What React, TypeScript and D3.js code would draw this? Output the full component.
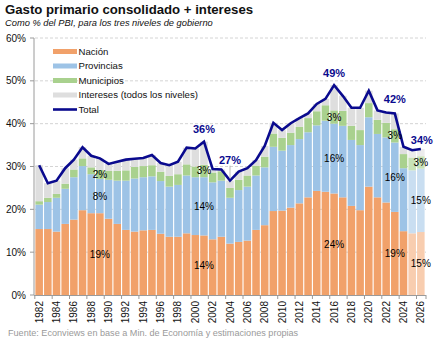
import React from 'react';
import * as d3 from 'd3';

const years = [1982,1983,1984,1985,1986,1987,1988,1989,1990,1991,1992,1993,1994,1995,1996,1997,1998,1999,2000,2001,2002,2003,2004,2005,2006,2007,2008,2009,2010,2011,2012,2013,2014,2015,2016,2017,2018,2019,2020,2021,2022,2023,2024,2025,2026];
const nacion = [15.4,15.4,14.8,16.6,17.6,19.8,19.1,19.1,17.8,16.6,15.2,14.8,15.1,15.2,14.3,13.6,13.6,14.4,14.0,13.9,13.0,13.6,12.0,12.4,12.7,15.2,16.3,19.6,19.7,20.4,21.4,22.8,24.3,24.1,23.7,22.8,20.8,19.8,25.3,22.8,21.6,19.4,14.9,14.4,14.7];
const provincias = [5.7,6.3,7.9,8.2,9.9,10.3,9.1,8.0,9.1,10.1,11.5,12.4,12.4,12.5,12.3,11.7,12.1,13.5,13.5,13.6,13.3,13.1,10.7,12.1,12.6,12.7,13.5,15.0,14.0,14.6,15.0,15.2,15.3,16.6,16.3,16.7,15.4,15.2,16.2,14.8,15.2,16.2,14.7,14.7,14.8];
const municipios = [0.8,1.0,0.9,1.2,1.8,1.8,1.6,2.1,2.1,2.3,2.4,2.7,2.6,2.6,2.2,2.5,2.5,2.6,2.5,2.9,2.3,2.2,2.3,2.4,2.6,2.3,2.5,3.1,3.0,2.9,2.9,3.3,3.3,3.6,3.1,3.5,3.3,3.5,3.3,3.3,3.4,3.1,3.3,3.0,2.9];
const intereses = [8.4,3.4,3.1,3.6,2.3,2.6,2.7,2.7,1.6,2.1,2.5,1.9,1.9,2.4,2.0,2.5,2.9,3.9,4.2,5.4,0.8,0.4,1.7,1.9,1.7,1.3,2.5,2.5,1.8,2.2,2.0,1.1,1.7,1.5,5.9,3.5,4.2,5.2,2.9,2.2,2.4,3.7,1.7,1.7,1.7];
const total = [30.3,26.1,26.7,29.6,31.6,34.5,32.5,31.9,30.6,31.1,31.6,31.8,32.0,32.7,30.8,30.3,31.1,34.4,34.2,35.8,29.4,29.3,26.7,28.8,29.6,31.5,34.8,40.2,38.5,40.1,41.3,42.4,44.6,45.8,49.0,46.5,43.7,43.7,47.7,43.1,42.6,42.4,34.6,33.8,34.1];

const projectedYears = [2025, 2026];
const yTicks = [0, 10, 20, 30, 40, 50, 60];
const segmentLabelYears = [1989, 2001, 2016, 2023, 2026];
const totalLabelYears = [2001, 2004, 2016, 2023, 2026];

const seriesKeys = ['nacion', 'provincias', 'municipios', 'intereses'];
const seriesNames = ['Nación', 'Provincias', 'Municipios', 'Intereses (todos los niveles)'];
const colors: Record<string, string> = { nacion: '#F1A16A', provincias: '#9DC3E6', municipios: '#A9D18E', intereses: '#DEDEDE' };
const lightColors: Record<string, string> = { nacion: '#F8CDAF', provincias: '#C9DEF1', municipios: '#C8E2B6', intereses: '#ECECEC' };
const navy = '#0A0A8E';
const FONT = '"Liberation Sans", Arial, sans-serif';

export default function App() {
  const table = years.map((yr, i) => ({ year: yr, nacion: nacion[i], provincias: provincias[i], municipios: municipios[i], intereses: intereses[i], total: total[i] }));
  const x = d3.scaleBand<number>().domain(years).range([34, 426]).paddingInner(0.13).paddingOuter(0.16);
  const y = d3.scaleLinear().domain([0, 60]).range([295, 38]);
  const stack = d3.stack<any>().keys(seriesKeys)(table);
  const cx = (yr: number) => (x(yr) as number) + x.bandwidth() / 2;
  const line = d3.line<any>().x(d => cx(d.year)).y(d => y(d.total));
  const step = x.step();
  const pad = step * x.paddingInner() / 2;

  const labelOffsets: Record<number, number> = { 2001: 9, 2004: 17, 2016: 8, 2023: 10, 2026: 5 };

  return (
    <svg width={442} height={340} style={{ position: 'absolute', left: 0, top: 0, background: '#fff' }} fontFamily={FONT}>
      <text x={5} y={14} fontSize={13.2} fontWeight="bold" fill="#111">Gasto primario consolidado + intereses</text>
      <text x={5} y={25.5} fontSize={9.3} fontStyle="italic" fill="#111">Como % del PBI, para los tres niveles de gobierno</text>

      {yTicks.filter(t => t > 0).map(t => (
        <line key={'g' + t} x1={35} x2={426} y1={y(t)} y2={y(t)} stroke="#D4D4D4" strokeDasharray="3,2" strokeWidth={1} />
      ))}

      {stack.map(s => (
        <g key={s.key}>
          {s.map((d: any) => (
            <rect key={d.data.year} x={x(d.data.year)} width={x.bandwidth()} y={y(d[1])} height={Math.max(0, y(d[0]) - y(d[1]))}
              fill={projectedYears.includes(d.data.year) ? lightColors[s.key] : colors[s.key]} />
          ))}
        </g>
      ))}

      <line x1={34} x2={34} y1={38} y2={295} stroke="#9A9A9A" strokeWidth={1} />
      {yTicks.map(t => (
        <g key={'yt' + t}>
          <line x1={30} x2={34} y1={y(t)} y2={y(t)} stroke="#9A9A9A" />
          <text x={26} y={y(t)} dy="0.35em" textAnchor="end" fontSize={10} fill="#111">{t}%</text>
        </g>
      ))}
      <line x1={34} x2={426} y1={295.5} y2={295.5} stroke="#9A9A9A" strokeWidth={1} />
      {years.filter(yr => yr % 2 === 0).map(yr => (
        <g key={'xt' + yr}>
          <line x1={(x(yr) as number) - pad} x2={(x(yr) as number) - pad} y1={295} y2={299} stroke="#9A9A9A" />
          <text transform={`translate(${cx(yr)},301) rotate(-90)`} textAnchor="end" dy="0.35em" fontSize={10} fill="#111">{yr}</text>
        </g>
      ))}
      <line x1={426} x2={426} y1={295} y2={299} stroke="#9A9A9A" />

      <path d={line(table) as string} fill="none" stroke={navy} strokeWidth={2.6} strokeLinejoin="miter" />

      {segmentLabelYears.map(yr => {
        const i = years.indexOf(yr);
        return stack.slice(0, 3).map(s => {
          const d = s[i];
          return (
            <text key={s.key + yr} x={cx(yr)} y={y((d[0] + d[1]) / 2)} dy="0.35em" textAnchor="middle" fontSize={10} fill="#000">
              {Math.round(d[1] - d[0])}%
            </text>
          );
        });
      })}

      {totalLabelYears.map(yr => {
        const i = years.indexOf(yr);
        const py = y(total[i]);
        const off = labelOffsets[yr];
        return (
          <g key={'tl' + yr}>
            {yr === 2004 && <line x1={cx(yr)} x2={cx(yr)} y1={py - off + 2} y2={py - 2} stroke="#AAAAAA" strokeWidth={0.8} />}
            <text x={cx(yr) + (yr === 2026 ? 1 : 0)} y={py - off} textAnchor="middle" fontSize={11} fontWeight="bold" fill={navy}>
              {Math.round(total[i])}%
            </text>
          </g>
        );
      })}

      {seriesKeys.map((k, i) => (
        <g key={'lg' + k}>
          <rect x={53} y={51.5 + i * 14.5 - 2.5} width={24} height={5} fill={colors[k]} />
          <text x={78.5} y={51.5 + i * 14.5} dy="0.35em" fontSize={9.6} fill="#111">{seriesNames[i]}</text>
        </g>
      ))}
      <line x1={53} x2={77} y1={51.5 + 4 * 14.5} y2={51.5 + 4 * 14.5} stroke={navy} strokeWidth={2.6} />
      <text x={78.5} y={51.5 + 4 * 14.5} dy="0.35em" fontSize={9.6} fill="#111">Total</text>

      <text x={8} y={336} fontSize={9.1} fill="#9A9A9A">Fuente: Econviews en base a Min. de Economía y estimaciones propias</text>
    </svg>
  );
}
